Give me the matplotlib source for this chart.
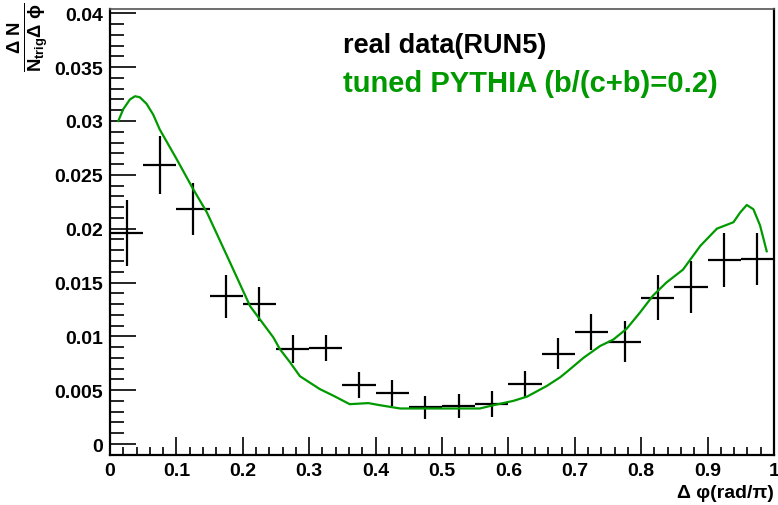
import numpy as np
import matplotlib
matplotlib.use("Agg")
import matplotlib.pyplot as plt
from matplotlib.ticker import MultipleLocator

plt.rcParams['font.family'] = ['Liberation Sans', 'DejaVu Sans']
plt.rcParams['mathtext.fontset'] = 'custom'
plt.rcParams['mathtext.rm'] = 'Liberation Sans'
plt.rcParams['mathtext.bf'] = 'Liberation Sans:bold'
plt.rcParams['mathtext.it'] = 'Liberation Sans:italic'

# real data (RUN5), bin centres and errors
data_x = [0.025, 0.075, 0.125, 0.175, 0.225, 0.275, 0.325, 0.375, 0.425, 0.475,
          0.525, 0.575, 0.625, 0.675, 0.725, 0.775, 0.825, 0.875, 0.925, 0.975]
data_y = [0.0196, 0.0259, 0.0218, 0.0137, 0.0130, 0.0088, 0.0089, 0.0055, 0.0047, 0.0034,
          0.0035, 0.0037, 0.0056, 0.0084, 0.0104, 0.0095, 0.0136, 0.0146, 0.0171, 0.0172]
data_err = [0.0031, 0.0027, 0.0024, 0.0020, 0.0016, 0.0013, 0.0012, 0.0012, 0.0012, 0.0011,
            0.0011, 0.0012, 0.0012, 0.0014, 0.0017, 0.0019, 0.0021, 0.0024, 0.0025, 0.0024]
bin_half = 0.025

# tuned PYTHIA curve
mc_x = [0.0125, 0.020, 0.030, 0.0377, 0.045, 0.055, 0.065, 0.075, 0.100, 0.125, 0.146,
        0.176, 0.211, 0.246, 0.256, 0.271, 0.286, 0.316, 0.336, 0.361, 0.389, 0.407,
        0.437, 0.557, 0.577, 0.607, 0.628, 0.658, 0.678, 0.688, 0.713, 0.738, 0.758,
        0.778, 0.798, 0.818, 0.838, 0.863, 0.889, 0.914, 0.939, 0.949, 0.959, 0.969,
        0.979, 0.989]
mc_y = [0.0300, 0.0311, 0.0320, 0.0323, 0.0322, 0.0316, 0.0306, 0.0292, 0.0265, 0.0237, 0.0215,
        0.0175, 0.0128, 0.0099, 0.0088, 0.0076, 0.0063, 0.0051, 0.0045, 0.0037, 0.0038, 0.0036,
        0.0033, 0.0033, 0.0036, 0.0040, 0.0044, 0.0054, 0.0062, 0.0067, 0.0080, 0.0091, 0.0097,
        0.0107, 0.0122, 0.0138, 0.0150, 0.0162, 0.0184, 0.0200, 0.0206, 0.0215, 0.0222, 0.0218,
        0.0203, 0.0179]

x_ticks = [0, 0.1, 0.2, 0.3, 0.4, 0.5, 0.6, 0.7, 0.8, 0.9, 1]
x_labels = ["0", "0.1", "0.2", "0.3", "0.4", "0.5", "0.6", "0.7", "0.8", "0.9", "1"]
y_ticks = [0, 0.005, 0.01, 0.015, 0.02, 0.025, 0.03, 0.035, 0.04]
y_labels = ["0", "0.005", "0.01", "0.015", "0.02", "0.025", "0.03", "0.035", "0.04"]

green = '#009a00'

fig = plt.figure(figsize=(7.78, 5.06), dpi=100)
ax = fig.add_axes([110 / 778, 50 / 506, 664 / 778, 446 / 506])

ax.errorbar(data_x, data_y, xerr=bin_half, yerr=data_err, fmt='none',
            ecolor='black', elinewidth=1.6, capsize=0)
ax.plot(mc_x, mc_y, color=green, lw=1.6)

ax.set_xlim(0, 1)
ax.set_ylim(-0.00102, 0.0404)
ax.set_xticks(x_ticks)
ax.set_xticklabels(x_labels)
ax.set_yticks(y_ticks)
ax.set_yticklabels(y_labels)
ax.xaxis.set_minor_locator(MultipleLocator(0.02))
ax.yaxis.set_minor_locator(MultipleLocator(0.001))
ax.tick_params(axis='both', which='both', direction='in', top=False, right=False)
ax.tick_params(axis='x', which='major', length=13, width=1.2, labelsize=14, pad=5)
ax.tick_params(axis='x', which='minor', length=6, width=1.2)
ax.tick_params(axis='y', which='major', length=19, width=1.2, labelsize=14, pad=5)
ax.tick_params(axis='y', which='minor', length=10, width=1.2)
for lab in ax.get_xticklabels() + ax.get_yticklabels():
    lab.set_fontweight('bold')
for s in ['left', 'bottom', 'right']:
    ax.spines[s].set_linewidth(1.6)
ax.spines['top'].set_linewidth(1.2)
ax.spines['top'].set_color('#555555')

fig.text(343 / 778, 1 - 53 / 506, "real data(RUN5)", va='baseline',
         fontsize=19.5, fontweight='bold', color='black')
fig.text(343 / 778, 1 - 92 / 506, "tuned PYTHIA (b/(c+b)=0.2)", va='baseline',
         fontsize=21, fontweight='bold', color=green)

fig.text(774 / 778, 1 - 498 / 506, "\u0394 \u03c6(rad/\u03c0)", ha='right', va='baseline',
         fontsize=14, fontweight='bold')
fig.text(28 / 778, 1 - 3 / 506, r'$\mathbf{\frac{\Delta\ N}{N_{trig}\Delta\ \phi}}$',
         rotation=90, ha='center', va='top', fontsize=19)

fig.savefig("out.png", dpi=100)
